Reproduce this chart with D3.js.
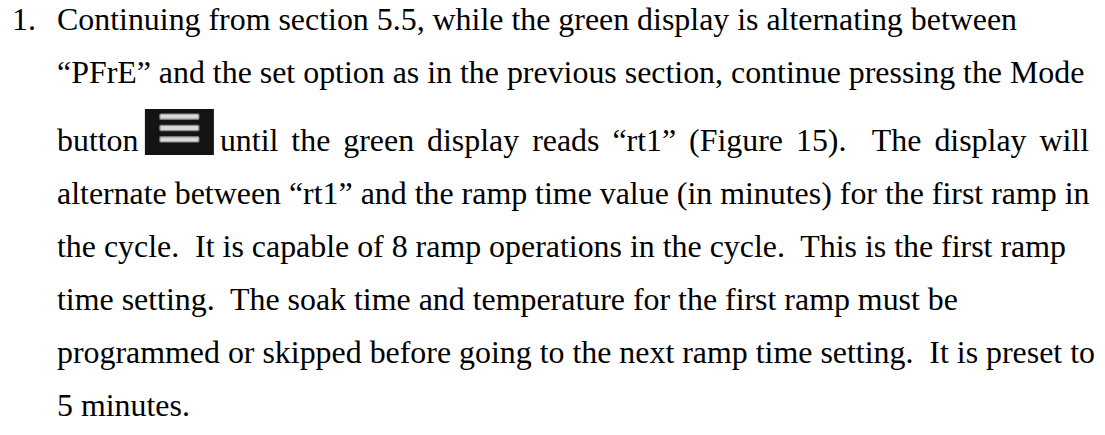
<!DOCTYPE html>
<html>
<head>
<meta charset="utf-8">
<script src="https://cdn.jsdelivr.net/npm/d3@7"></script>
<style>
  html, body { margin: 0; padding: 0; background: #fff; }
</style>
</head>
<body>
<div id="page"></div>
<script>
// ─── DATA ─────────────────────────────────────────────────────────────────────
const itemNumber = "1.";
const lines = [
  "Continuing from section 5.5, while the green display is alternating between",
  "\u201CPFrE\u201D and the set option as in the previous section, continue pressing the Mode",
  "button",
  "alternate between \u201Crt1\u201D and the ramp time value (in minutes) for the first ramp in",
  "the cycle.  It is capable of 8 ramp operations in the cycle.  This is the first ramp",
  "time setting.  The soak time and temperature for the first ramp must be",
  "programmed or skipped before going to the next ramp time setting.  It is preset to",
  "5 minutes."
];
// text that follows the Mode-button icon on line 3
const afterIcon = "until the green display reads \u201Crt1\u201D (Figure 15).  The display will";
const iconLine = 2;
const iconBars = [0, 1, 2];

// ─── LAYOUT ───────────────────────────────────────────────────────────────────
const W = 1105, H = 435;
const fontSize = 31.9;
const numberX = 12, textX = 57;
const lineHeight = 53, iconExtra = 15, firstBaseline = 30;

const svg = d3.select("#page")
  .append("svg")
  .attr("width", W)
  .attr("height", H)
  .style("display", "block");

svg.append("rect").attr("width", W).attr("height", H).attr("fill", "#fff");

// baseline for each line index; the icon line is a bit taller
const yLine = i => firstBaseline + i * lineHeight + (i >= iconLine ? iconExtra : 0);

const textStyle = sel => sel
  .attr("fill", "#000")
  .style("font-family", "'Liberation Serif', 'Times New Roman', serif")
  .style("font-size", fontSize + "px")
  .style("white-space", "pre");

// 1. Item number
svg.append("text")
  .attr("x", numberX)
  .attr("y", yLine(0))
  .call(textStyle)
  .text(itemNumber);

// 2. Paragraph lines
const rows = svg.selectAll(".line")
  .data(lines)
  .enter()
  .append("text")
  .attr("class", "line")
  .attr("x", textX)
  .attr("y", (d, i) => yLine(i))
  .call(textStyle)
  .text(d => d);

// 3. Mode button icon, sitting inline after "button "
const buttonWidth = rows.filter((d, i) => i === iconLine).node().getComputedTextLength();
const iconX = textX + buttonWidth + fontSize * 0.2;
const iconW = 69, iconH = 46;
const iconTop = yLine(iconLine) + 4 - iconH;

const icon = svg.append("g").attr("transform", `translate(${iconX},${iconTop})`);
icon.append("rect")
  .attr("width", iconW)
  .attr("height", iconH)
  .attr("fill", "#141414");

const barY = d3.scaleBand().domain(iconBars).range([5, 33]).paddingInner(0.55);
icon.selectAll(".bar")
  .data(iconBars)
  .enter()
  .append("rect")
  .attr("class", "bar")
  .attr("x", 15)
  .attr("y", d => barY(d))
  .attr("width", 39)
  .attr("height", barY.bandwidth())
  .attr("rx", 1)
  .attr("fill", "#d9d9d9")
  .attr("stroke", "#8a8a8a")
  .attr("stroke-width", 1.2);

// 4. Rest of line 3 (a little looser in the original)
svg.append("text")
  .attr("x", iconX + iconW + 6)
  .attr("y", yLine(iconLine))
  .call(textStyle)
  .style("word-spacing", "5px")
  .text(afterIcon);
</script>
</body>
</html>
